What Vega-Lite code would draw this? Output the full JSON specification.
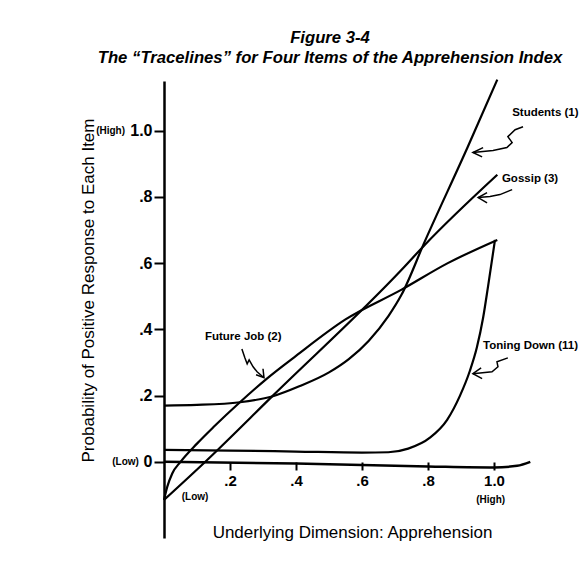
{
  "$schema": "https://vega.github.io/schema/vega-lite/v6.json",
  "autosize": {"type": "none"},
  "width": 396,
  "height": 457,
  "padding": {"left": 164, "top": 81, "right": 28, "bottom": 34},
  "background": "white",
  "config": {"view": {"stroke": null}, "font": "Liberation Sans"},
  "title": {
    "text": ["Figure 3-4", "The “Tracelines” for Four Items of the Apprehension Index"],
    "font": "Liberation Sans",
    "fontSize": 16.7,
    "fontWeight": "bold",
    "fontStyle": "italic",
    "color": "black",
    "anchor": "middle",
    "frame": "group",
    "dx": -32,
    "offset": 9,
    "lineHeight": 20
  },
  "datasets": {
    "curves": [
      {"series": "Gossip (3)", "x": 0, "y": -0.115},
      {"series": "Gossip (3)", "x": 0.13, "y": 0.005},
      {"series": "Gossip (3)", "x": 0.33, "y": 0.2},
      {"series": "Gossip (3)", "x": 0.72, "y": 0.58},
      {"series": "Gossip (3)", "x": 0.79, "y": 0.655},
      {"series": "Gossip (3)", "x": 1.01, "y": 0.867},
      {"series": "Future Job (2)", "x": 0, "y": -0.115},
      {"series": "Future Job (2)", "x": 0.01, "y": -0.075},
      {"series": "Future Job (2)", "x": 0.025, "y": -0.035},
      {"series": "Future Job (2)", "x": 0.05, "y": 0.0},
      {"series": "Future Job (2)", "x": 0.1, "y": 0.055},
      {"series": "Future Job (2)", "x": 0.15, "y": 0.105},
      {"series": "Future Job (2)", "x": 0.23, "y": 0.18},
      {"series": "Future Job (2)", "x": 0.31, "y": 0.25},
      {"series": "Future Job (2)", "x": 0.4, "y": 0.32},
      {"series": "Future Job (2)", "x": 0.55, "y": 0.43},
      {"series": "Future Job (2)", "x": 0.72, "y": 0.52},
      {"series": "Future Job (2)", "x": 0.86, "y": 0.6},
      {"series": "Future Job (2)", "x": 1.01, "y": 0.67},
      {"series": "Students (1)", "x": 0, "y": 0.17},
      {"series": "Students (1)", "x": 0.1, "y": 0.172},
      {"series": "Students (1)", "x": 0.23, "y": 0.18},
      {"series": "Students (1)", "x": 0.33, "y": 0.198},
      {"series": "Students (1)", "x": 0.41, "y": 0.228},
      {"series": "Students (1)", "x": 0.5, "y": 0.27},
      {"series": "Students (1)", "x": 0.56, "y": 0.31},
      {"series": "Students (1)", "x": 0.62, "y": 0.365},
      {"series": "Students (1)", "x": 0.68, "y": 0.44},
      {"series": "Students (1)", "x": 0.72, "y": 0.505},
      {"series": "Students (1)", "x": 0.79, "y": 0.665},
      {"series": "Students (1)", "x": 0.92, "y": 0.95},
      {"series": "Students (1)", "x": 1.01, "y": 1.154},
      {"series": "Toning Down (11)", "x": 0, "y": 0.036},
      {"series": "Toning Down (11)", "x": 0.2, "y": 0.034},
      {"series": "Toning Down (11)", "x": 0.4, "y": 0.031},
      {"series": "Toning Down (11)", "x": 0.6, "y": 0.028},
      {"series": "Toning Down (11)", "x": 0.68, "y": 0.029},
      {"series": "Toning Down (11)", "x": 0.74, "y": 0.04},
      {"series": "Toning Down (11)", "x": 0.806, "y": 0.073},
      {"series": "Toning Down (11)", "x": 0.858, "y": 0.127},
      {"series": "Toning Down (11)", "x": 0.897, "y": 0.2},
      {"series": "Toning Down (11)", "x": 0.927, "y": 0.275},
      {"series": "Toning Down (11)", "x": 0.948, "y": 0.345},
      {"series": "Toning Down (11)", "x": 0.967, "y": 0.435},
      {"series": "Toning Down (11)", "x": 0.982, "y": 0.53},
      {"series": "Toning Down (11)", "x": 1.003, "y": 0.67}
    ],
    "baseline": [
      {"x": 0, "y": 0},
      {"x": 0.4, "y": -0.005},
      {"x": 0.8, "y": -0.014},
      {"x": 1.0, "y": -0.017},
      {"x": 1.07, "y": -0.012},
      {"x": 1.11, "y": 0.0}
    ],
    "arrows": [
      {"arrow": "s", "i": 1, "x": 1.088, "y": 1.012},
      {"arrow": "s", "i": 2, "x": 1.064, "y": 1.003},
      {"arrow": "s", "i": 3, "x": 1.042, "y": 0.982},
      {"arrow": "s", "i": 4, "x": 1.055, "y": 0.964},
      {"arrow": "s", "i": 5, "x": 1.039, "y": 0.949},
      {"arrow": "s", "i": 6, "x": 0.997, "y": 0.94},
      {"arrow": "s", "i": 7, "x": 0.936, "y": 0.934},
      {"arrow": "sh", "i": 1, "x": 0.967, "y": 0.949},
      {"arrow": "sh", "i": 2, "x": 0.936, "y": 0.934},
      {"arrow": "sh", "i": 3, "x": 0.964, "y": 0.921},
      {"arrow": "g", "i": 1, "x": 1.055, "y": 0.822},
      {"arrow": "g", "i": 2, "x": 1.018, "y": 0.807},
      {"arrow": "g", "i": 3, "x": 0.988, "y": 0.801},
      {"arrow": "g", "i": 4, "x": 0.952, "y": 0.798},
      {"arrow": "gh", "i": 1, "x": 0.979, "y": 0.813},
      {"arrow": "gh", "i": 2, "x": 0.952, "y": 0.798},
      {"arrow": "gh", "i": 3, "x": 0.979, "y": 0.782},
      {"arrow": "t", "i": 1, "x": 1.042, "y": 0.314},
      {"arrow": "t", "i": 2, "x": 1.009, "y": 0.302},
      {"arrow": "t", "i": 3, "x": 1.012, "y": 0.287},
      {"arrow": "t", "i": 4, "x": 0.994, "y": 0.272},
      {"arrow": "t", "i": 5, "x": 0.936, "y": 0.266},
      {"arrow": "th", "i": 1, "x": 0.961, "y": 0.284},
      {"arrow": "th", "i": 2, "x": 0.936, "y": 0.266},
      {"arrow": "th", "i": 3, "x": 0.964, "y": 0.251},
      {"arrow": "f", "i": 1, "x": 0.236, "y": 0.341},
      {"arrow": "f", "i": 2, "x": 0.245, "y": 0.314},
      {"arrow": "f", "i": 3, "x": 0.252, "y": 0.296},
      {"arrow": "f", "i": 4, "x": 0.258, "y": 0.308},
      {"arrow": "f", "i": 5, "x": 0.27, "y": 0.287},
      {"arrow": "f", "i": 6, "x": 0.282, "y": 0.272},
      {"arrow": "f", "i": 7, "x": 0.303, "y": 0.254},
      {"arrow": "fh", "i": 1, "x": 0.3, "y": 0.281},
      {"arrow": "fh", "i": 2, "x": 0.303, "y": 0.254},
      {"arrow": "fh", "i": 3, "x": 0.279, "y": 0.263}
    ],
    "labels": [
      {"label": "Students (1)", "x": 1.055, "y": 1.054},
      {"label": "Gossip (3)", "x": 1.024, "y": 0.855},
      {"label": "Toning Down (11)", "x": 0.967, "y": 0.35},
      {"label": "Future Job (2)", "x": 0.124, "y": 0.378}
    ],
    "ylabels": [
      {"label": "(High)", "x": -0.118, "y": 1.0},
      {"label": "(Low)", "x": -0.076, "y": 0.0}
    ],
    "xlabels": [
      {"label": "(Low)", "x": 0.094, "y": -0.106},
      {"label": "(High)", "x": 0.99, "y": -0.115}
    ]
  },
  "encoding": {
    "x": {
      "field": "x",
      "type": "quantitative",
      "scale": {"domain": [0, 1.2], "nice": false, "zero": false},
      "axis": {
        "values": [0.2, 0.4, 0.6, 0.8, 1.0],
        "labelExpr": "datum.value >= 1 ? '1.0' : substring(format(datum.value, '.1f'), 1)",
        "offset": -76,
        "domain": false,
        "grid": false,
        "tickColor": "black",
        "tickSize": 8,
        "tickWidth": 2,
        "labelFont": "Liberation Sans",
        "labelFontSize": 15,
        "labelFontWeight": "bold",
        "labelColor": "black",
        "labelPadding": 3,
        "title": "Underlying Dimension: Apprehension",
        "titleFont": "Liberation Sans",
        "titleFontSize": 17,
        "titleFontWeight": "normal",
        "titleColor": "black",
        "titleX": 188,
        "titleY": 70,
        "titleAlign": "center",
        "titleBaseline": "middle"
      }
    },
    "y": {
      "field": "y",
      "type": "quantitative",
      "scale": {"domain": [-0.23, 1.15], "nice": false, "zero": false},
      "axis": {
        "values": [0, 0.2, 0.4, 0.6, 0.8, 1.0],
        "labelExpr": "datum.value == 0 ? '0' : datum.value >= 1 ? '1.0' : substring(format(datum.value, '.1f'), 1)",
        "domain": true,
        "domainColor": "black",
        "domainWidth": 2.5,
        "grid": false,
        "tickColor": "black",
        "tickSize": 10,
        "tickWidth": 2,
        "labelFont": "Liberation Sans",
        "labelFontSize": 16,
        "labelFontWeight": "bold",
        "labelColor": "black",
        "labelPadding": 2,
        "title": "Probability of Positive Response to Each Item",
        "titleFont": "Liberation Sans",
        "titleFontSize": 17,
        "titleFontWeight": "normal",
        "titleColor": "black",
        "titleX": -76,
        "titleY": 209,
        "titleAlign": "center",
        "titleBaseline": "middle"
      }
    }
  },
  "layer": [
    {
      "data": {"name": "curves"},
      "mark": {"type": "line", "color": "black", "strokeWidth": 2.2, "interpolate": "monotone"},
      "encoding": {"detail": {"field": "series", "type": "nominal"}}
    },
    {
      "data": {"name": "baseline"},
      "mark": {"type": "line", "color": "black", "strokeWidth": 2.5, "interpolate": "monotone"},
      "encoding": {}
    },
    {
      "data": {"name": "arrows"},
      "mark": {"type": "line", "color": "black", "strokeWidth": 1.5},
      "encoding": {
        "detail": {"field": "arrow", "type": "nominal"},
        "order": {"field": "i", "type": "quantitative"}
      }
    },
    {
      "data": {"name": "labels"},
      "mark": {"type": "text", "align": "left", "baseline": "middle", "font": "Liberation Sans", "fontSize": 11.5, "fontWeight": "bold", "color": "black"},
      "encoding": {"text": {"field": "label"}}
    },
    {
      "data": {"name": "ylabels"},
      "mark": {"type": "text", "align": "right", "baseline": "middle", "font": "Liberation Sans", "fontSize": 10, "fontWeight": "bold", "color": "black"},
      "encoding": {"text": {"field": "label"}}
    },
    {
      "data": {"name": "xlabels"},
      "mark": {"type": "text", "align": "center", "baseline": "middle", "font": "Liberation Sans", "fontSize": 10, "fontWeight": "bold", "color": "black"},
      "encoding": {"text": {"field": "label"}}
    }
  ]
}
